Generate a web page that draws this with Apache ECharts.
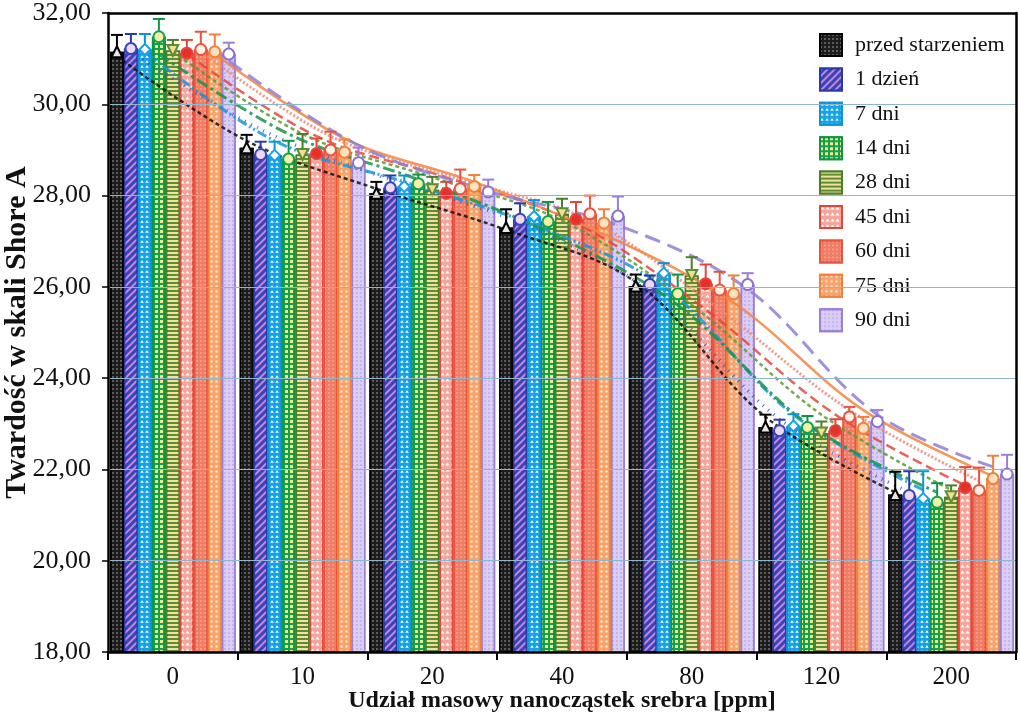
<!DOCTYPE html>
<html><head><meta charset="utf-8">
<script src="https://cdn.jsdelivr.net/npm/echarts@6/dist/echarts.min.js"></script>
<style>html,body{margin:0;padding:0;background:#fff}#c{width:1020px;height:715px}</style>
</head><body><div id="c"></div>
<script>
// ---- data ----
var categories = ['0', '10', '20', '40', '80', '120', '200'];
var seriesNames = ['przed starzeniem', '1 dzień', '7 dni', '14 dni', '28 dni', '45 dni', '60 dni', '75 dni', '90 dni'];
var vPrzed = [31.15, 29.05, 28.05, 27.30, 26.02, 22.93, 21.45];
var vD1    = [31.22, 28.90, 28.17, 27.48, 26.05, 22.85, 21.43];
var vD7    = [31.20, 28.88, 28.20, 27.54, 26.30, 22.95, 21.36];
var vD14   = [31.48, 28.80, 28.26, 27.43, 25.85, 22.92, 21.28];
var vD28   = [31.18, 28.90, 28.13, 27.60, 26.25, 22.80, 21.40];
var vD45   = [31.12, 28.92, 28.05, 27.48, 26.07, 22.85, 21.60];
var vD60   = [31.20, 29.00, 28.15, 27.60, 25.93, 23.15, 21.54];
var vD75   = [31.15, 28.95, 28.20, 27.40, 25.85, 22.90, 21.80];
var vD90   = [31.10, 28.72, 28.08, 27.55, 26.05, 23.05, 21.90];
var ePrzed = [0.37, 0.28, 0.25, 0.40, 0.25, 0.27, 0.50];
var eD1    = [0.32, 0.28, 0.27, 0.35, 0.20, 0.24, 0.53];
var eD7    = [0.34, 0.30, 0.24, 0.36, 0.22, 0.26, 0.60];
var eD14   = [0.39, 0.40, 0.20, 0.43, 0.42, 0.25, 0.42];
var eD28   = [0.23, 0.45, 0.28, 0.33, 0.40, 0.25, 0.25];
var eD45   = [0.29, 0.33, 0.25, 0.38, 0.42, 0.25, 0.45];
var eD60   = [0.39, 0.40, 0.42, 0.40, 0.40, 0.22, 0.50];
var eD75   = [0.38, 0.28, 0.25, 0.30, 0.40, 0.25, 0.50];
var eD90   = [0.25, 0.33, 0.27, 0.43, 0.25, 0.25, 0.42];
// trend lines (at each series' bar position)
var tPrzed = [31.05, 29.20, 28.15, 27.25, 26.10, 23.15, 21.50];
var tD1    = [31.15, 29.45, 28.35, 27.40, 25.90, 23.10, 21.50];
var tD7    = [31.15, 29.20, 28.30, 27.35, 26.00, 23.20, 21.55];
var tD14   = [31.10, 29.35, 28.35, 27.20, 25.60, 23.00, 21.50];
var tD28   = [31.15, 29.35, 28.40, 27.45, 25.60, 23.20, 21.55];
var tD45   = [31.10, 29.30, 28.40, 27.40, 25.50, 23.20, 21.65];
var tD60   = [31.15, 29.30, 28.35, 27.45, 25.50, 23.30, 21.75];
var tD75   = [31.10, 29.25, 28.30, 27.15, 25.65, 23.30, 21.85];
var tD90   = [30.95, 29.10, 28.10, 27.35, 25.95, 23.20, 21.95];
var yTicks = [18, 20, 22, 24, 26, 28, 30, 32];

var values = [vPrzed, vD1, vD7, vD14, vD28, vD45, vD60, vD75, vD90];
var errors = [ePrzed, eD1, eD7, eD14, eD28, eD45, eD60, eD75, eD90];
var trends = [tPrzed, tD1, tD7, tD14, tD28, tD45, tD60, tD75, tD90];

// ---- styles ----
var FONT = '"Liberation Serif", "Times New Roman", serif';
var GAP = 0.03, N = 9;
var styles = [
  {fill:'#1c1c1c', border:'#000000', line:'#111111', ltype:[4,3], lw:2.5,
   decal:{symbol:'rect', symbolSize:0.7, color:'rgba(255,255,255,0.55)', dashArrayX:[2,2], dashArrayY:[2,2]},
   sym:'triangle', symFill:'#e6e6e6', symBorder:'#000'},
  {fill:'#3546b8', border:'#2a3aa8', line:'#2f4fd0', ltype:[1,6], lw:3.5,
   decal:{symbol:'rect', symbolSize:1, color:'#c784d8', dashArrayX:[1,0], dashArrayY:[2,3], rotation:-Math.PI/4},
   sym:'circle', symFill:'#efd8f4', symBorder:'#3546b8'},
  {fill:'#16a3e6', border:'#0e93d8', line:'#1497dc', ltype:[10,3,2,3,2,3], lw:3,
   decal:{symbol:'triangle', symbolSize:0.9, color:'#ffffff', dashArrayX:[4,1], dashArrayY:[3,2]},
   sym:'diamond', symFill:'#ffffff', symBorder:'#16a3e6'},
  {fill:'#15a04e', border:'#0f9444', line:'#17944a', ltype:[12,4,3,4], lw:3,
   decal:{symbol:'rect', symbolSize:1, color:'#f2e88c', dashArrayX:[3,1.5], dashArrayY:[3,1.5]},
   sym:'circle', symFill:'#f4f0a8', symBorder:'#15a04e'},
  {fill:'#5f8d33', border:'#4e7d28', line:'#5a9a30', ltype:[4,3], lw:2.5,
   decal:{symbol:'rect', symbolSize:1, color:'#f0e1a2', dashArrayX:[1,0], dashArrayY:[2,2]},
   sym:'path://M0,0 L10,0 L5,9 Z', symFill:'#f0e090', symBorder:'#5f8d33'},
  {fill:'#f4a69c', border:'#e2453a', line:'#e5473b', ltype:[10,5], lw:2.5,
   decal:{symbol:'triangle', symbolSize:0.8, color:'#ffffff', dashArrayX:[5,0], dashArrayY:[4,2]},
   sym:'circle', symFill:'#e8302a', symBorder:'#e2453a'},
  {fill:'#f17c66', border:'#e8553f', line:'#f08a78', ltype:[2,2], lw:3,
   decal:{symbol:'circle', symbolSize:0.8, color:'#f9c3b3', dashArrayX:[2,1.5], dashArrayY:[2,1.5]},
   sym:'circle', symFill:'#fff0e8', symBorder:'#e8553f'},
  {fill:'#f7a46c', border:'#f0803a', line:'#f38540', ltype:'solid', lw:2.5,
   decal:{symbol:'circle', symbolSize:0.8, color:'#fde3cc', dashArrayX:[3,2], dashArrayY:[3,2]},
   sym:'circle', symFill:'#fde0c0', symBorder:'#f0803a'},
  {fill:'#dacef3', border:'#9a80d8', line:'#8f7ed8', ltype:[16,8], lw:3,
   decal:{symbol:'circle', symbolSize:0.7, color:'#a58be0', dashArrayX:[2,1.5], dashArrayY:[2,1.5]},
   sym:'circle', symFill:'#ffffff', symBorder:'#8f70d0'}
];
function xPos(k, i) { return k - 0.5 + GAP / 2 + (i + 0.5) * (1 - GAP) / N; }

var series = [];
seriesNames.forEach(function (name, i) {
  var st = styles[i];
  series.push({
    name: name, type: 'bar', xAxisIndex: 0, yAxisIndex: 0,
    barGap: '0%', barCategoryGap: (GAP * 100) + '%',
    data: values[i], z: 2,
    itemStyle: {color: st.fill, borderColor: st.border, borderWidth: 1.5, decal: st.decal},
    emphasis: {disabled: true}
  });
});
seriesNames.forEach(function (name, i) {
  var st = styles[i];
  series.push({
    name: name + ' trend', type: 'line', xAxisIndex: 1, yAxisIndex: 0,
    data: trends[i].map(function (v, k) { return [xPos(k, i), v]; }),
    smooth: 0.35, showSymbol: false, z: 4, silent: true,
    lineStyle: {color: st.line, width: st.lw, type: st.ltype, opacity: 0.85}
  });
});
seriesNames.forEach(function (name, i) {
  var st = styles[i];
  series.push({
    name: name + ' err', type: 'custom', xAxisIndex: 1, yAxisIndex: 0, z: 5, silent: true,
    data: values[i].map(function (v, k) { return [xPos(k, i), v, errors[i][k]]; }),
    encode: {x: 0, y: 1},
    renderItem: function (params, api) {
      var x = api.value(0), v = api.value(1), e = api.value(2);
      var p0 = api.coord([x, v]), p1 = api.coord([x, v + e]);
      var c = 6;
      return {type: 'group', children: [
        {type: 'line', shape: {x1: p0[0], y1: p0[1], x2: p1[0], y2: p1[1]}, style: {stroke: st.border, lineWidth: 2}},
        {type: 'line', shape: {x1: p1[0] - c, y1: p1[1], x2: p1[0] + c, y2: p1[1]}, style: {stroke: st.border, lineWidth: 2}}
      ]};
    }
  });
  series.push({
    name: name + ' pts', type: 'scatter', xAxisIndex: 1, yAxisIndex: 0, z: 6, silent: true,
    data: values[i].map(function (v, k) { return [xPos(k, i), v]; }),
    symbol: st.sym, symbolSize: 11,
    itemStyle: {color: st.symFill, borderColor: st.symBorder, borderWidth: 2, opacity: 1}
  });
});

var frameLine = {show: true, onZero: false, lineStyle: {color: '#000', width: 2.5}};
var chart = echarts.init(document.getElementById('c'), null, {renderer: 'canvas'});
chart.setOption({
  animation: false,
  backgroundColor: '#ffffff',
  grid: {left: 108, right: 4, top: 13, bottom: 63, show: false, containLabel: false, outerBoundsMode: 'none'},
  legend: {
    data: seriesNames, orient: 'vertical', left: 813, top: 29,
    itemWidth: 22, itemHeight: 22, itemGap: 10.4, padding: [4, 40, 4, 6],
    backgroundColor: '#ffffff', icon: 'rect',
    textStyle: {fontFamily: FONT, fontSize: 22, color: '#111', padding: [0, 0, 0, 8]}
  },
  xAxis: [{
    type: 'category', data: categories, boundaryGap: true, z: 10,
    axisLine: frameLine,
    axisTick: {show: true, length: 8, lineStyle: {color: '#000', width: 2}},
    axisLabel: {fontFamily: FONT, fontSize: 25, color: '#111', margin: 13},
    name: 'Udział masowy nanocząstek srebra [ppm]', nameLocation: 'middle', nameGap: 37,
    nameMoveOverlap: false,
    nameTextStyle: {fontFamily: FONT, fontSize: 24, fontWeight: 'bold', color: '#111'}
  }, {
    type: 'value', min: -0.5, max: 6.5, position: 'top', z: 10,
    axisLine: frameLine, axisTick: {show: false}, axisLabel: {show: false}, splitLine: {show: false}
  }],
  yAxis: [{
    type: 'value', min: yTicks[0], max: yTicks[yTicks.length - 1], interval: 2, z: 10,
    axisLine: frameLine,
    axisTick: {show: true, length: 6, lineStyle: {color: '#000', width: 1.5}},
    axisLabel: {fontFamily: FONT, fontSize: 26, color: '#111', margin: 17,
      formatter: function (v) { return v.toFixed(2).replace('.', ','); }},
    splitLine: {show: true, lineStyle: {color: '#8fb6cf', width: 1}},
    name: 'Twardość w skali Shore A', nameLocation: 'middle', nameGap: 76, nameRotate: 90,
    nameMoveOverlap: false,
    nameTextStyle: {fontFamily: FONT, fontSize: 30, fontWeight: 'bold', color: '#111'}
  }, {
    type: 'value', min: yTicks[0], max: yTicks[yTicks.length - 1], interval: 2, position: 'right', z: 10,
    axisLine: frameLine, axisTick: {show: false}, axisLabel: {show: false}, splitLine: {show: false}
  }],
  series: series
});
</script></body></html>
